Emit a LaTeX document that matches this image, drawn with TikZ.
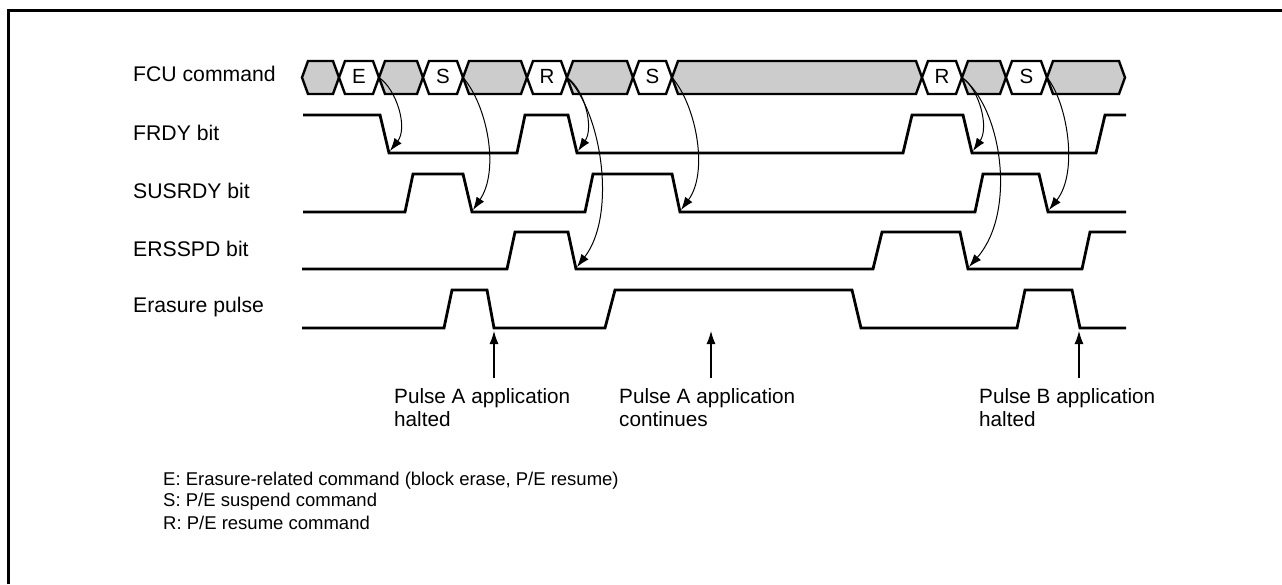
\documentclass[tikz,border=0pt]{standalone}
\usepackage{fontspec}
\setmainfont{Liberation Sans}
\usetikzlibrary{arrows.meta}
\definecolor{busgray}{RGB}{204,204,204}
\begin{document}
\begin{tikzpicture}[x=1pt,y=-1pt,
  wave/.style={line width=2.8pt, line join=miter},
  busseg/.style={draw, line width=2.4pt, line join=miter},
  cause/.style={line width=1pt, -{Latex[length=13pt,width=9pt]}},
  pointer/.style={line width=1.1pt, -{Latex[length=13pt,width=9pt]}},
  lbl/.style={font=\fontsize{21.2}{24}\selectfont, inner sep=0pt, anchor=west},
  note/.style={font=\fontsize{20.7}{23}\selectfont, inner sep=0pt, anchor=north west, align=left},
  leg/.style={font=\fontsize{18.5}{21}\selectfont, inner sep=0pt, anchor=west},
  cmd/.style={font=\fontsize{20.5}{22}\selectfont, inner sep=0pt}]
\useasboundingbox (0,0) rectangle (1282,584);
% frame (only top and left edges visible)
\draw[line width=3pt] (8.5,584) -- (8.5,10.5) -- (1282,10.5);

% signal labels
\node[lbl] (lfcu) at (133,74) {FCU command};
\node[lbl] (lfrdy) at (133,133) {FRDY bit};
\node[lbl] (lsus) at (133,191) {SUSRDY bit};
\node[lbl] (lers) at (133,249) {ERSSPD bit};
\node[lbl] (lpul) at (133,307) {Erasure pulse};

% FCU command bus
\foreach \a/\b/\f in {302/339/busgray, 339/379/white, 379/423/busgray, 423/463/white,
  463/527/busgray, 527/567/white, 567/633/busgray, 633/672/white, 672/922/busgray,
  922/962/white, 962/1006/busgray, 1006/1047/white, 1047/1125/busgray}
  \draw[busseg, fill=\f] (\a,77.5) -- (\a+6,61) -- (\b-6,61) -- (\b,77.5) -- (\b-6,94) -- (\a+6,94) -- cycle;
\node[cmd] (cE)  at (359,76) {E};
\node[cmd] (cS1) at (443,76) {S};
\node[cmd] (cR1) at (547,76) {R};
\node[cmd] (cS2) at (652.5,76) {S};
\node[cmd] (cR2) at (942,76) {R};
\node[cmd] (cS3) at (1026.5,76) {S};

\coordinate (xE)  at (379,77.5);
\coordinate (xS1) at (463,77.5);
\coordinate (xR1) at (567,77.5);
\coordinate (xS2) at (672,77.5);
\coordinate (xR2) at (962,77.5);
\coordinate (xS3) at (1047,77.5);

% FRDY
\draw[wave] (303,115) -- (380,115) -- (389,153) -- (517,153) -- (525,115) -- (568,115) -- (577,153)
  -- (903,153) -- (912,115) -- (963,115) -- (972,153) -- (1096,153) -- (1105,115) -- (1126,115);
% SUSRDY
\draw[wave] (303,212) -- (405,212) -- (413,174) -- (463,174) -- (472,212) -- (585,212) -- (593,174)
  -- (672,174) -- (680,212) -- (975,212) -- (983,174) -- (1039,174) -- (1048,212) -- (1126,212);
% ERSSPD
\draw[wave] (302,269) -- (507,269) -- (515,232) -- (568,232) -- (576,269) -- (873,269) -- (882,232)
  -- (960,232) -- (968,269) -- (1082,269) -- (1090,232) -- (1126,232);
% Erasure pulse
\draw[wave] (302,328) -- (444,328) -- (452,290) -- (487,290) -- (494,328) -- (605,328) -- (615,290)
  -- (852,290) -- (861,328) -- (1017,328) -- (1025,290) -- (1072,290) -- (1080,328) -- (1126,328);

% edge targets
\coordinate (fr1) at (390,151);
\coordinate (su1) at (473,210);
\coordinate (fr2) at (578,151);
\coordinate (er1) at (577,267);
\coordinate (su2) at (681,210);
\coordinate (fr3) at (973,151);
\coordinate (er2) at (969,267);
\coordinate (su3) at (1049,210);

% cause arrows
\draw[cause] (xE)  .. controls (397,90)  and (408,128) .. (fr1);
\draw[cause] (xS1) .. controls (487,105) and (500,170) .. (su1);
\draw[cause] (xR1) .. controls (585,90)  and (594,128) .. (fr2);
\draw[cause] (xR1) .. controls (602,112) and (617,215) .. (er1);
\draw[cause] (xS2) .. controls (696,105) and (709,172) .. (su2);
\draw[cause] (xR2) .. controls (980,90)  and (989,128) .. (fr3);
\draw[cause] (xR2) .. controls (1002,108) and (1017,212) .. (er2);
\draw[cause] (xS3) .. controls (1067,102) and (1079,172) .. (su3);

% pointers
\coordinate (pa) at (494,378);
\coordinate (pb) at (711,378);
\coordinate (pc) at (1079,378);
\coordinate (ta) at (494,331);
\coordinate (tb) at (711,331);
\coordinate (tc) at (1079,331);
\draw[pointer] (pa) -- (ta);
\draw[pointer] (pb) -- (tb);
\draw[pointer] (pc) -- (tc);

\node[note] (na) at (394,388) {Pulse A application\\halted};
\node[note] (nb) at (619,388) {Pulse A application\\continues};
\node[note] (nc) at (979,388) {Pulse B application\\halted};

% legend
\node[leg] (le) at (163,481) {E: Erasure-related command (block erase, P/E resume)};
\node[leg] (ls) at (163,502) {S: P/E suspend command};
\node[leg] (lr) at (163,523) {R: P/E resume command};
\end{tikzpicture}
\end{document}
